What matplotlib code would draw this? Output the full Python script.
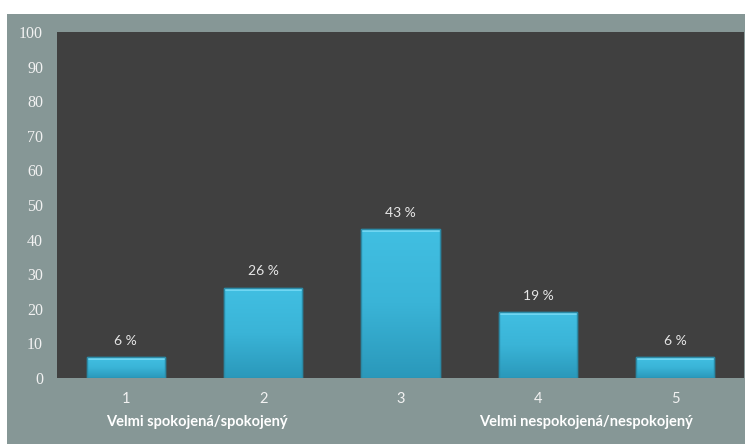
import matplotlib
matplotlib.use("Agg")
import matplotlib.pyplot as plt
import numpy as np
from matplotlib.patches import Rectangle
from matplotlib.colors import LinearSegmentedColormap

categories = ["1", "2", "3", "4", "5"]
values = [6, 26, 43, 19, 6]
labels = ["6 %", "26 %", "43 %", "19 %", "6 %"]
yticks = [0, 10, 20, 30, 40, 50, 60, 70, 80, 90, 100]
left_text = "Velmi spokojená/spokojený"
right_text = "Velmi nespokojená/nespokojený"

W, H = 748, 444
fig = plt.figure(figsize=(W / 100, H / 100), dpi=100, facecolor="white")

panel_col = "#869796"
fig.patches.append(Rectangle((7 / W, 0), (745 - 7) / W, (H - 14) / H,
                             transform=fig.transFigure, facecolor=panel_col,
                             edgecolor="none", zorder=-10))

ax = fig.add_axes([57 / W, (H - 378) / H, 687 / W, 346 / H])
ax.set_facecolor("#404040")
for s in ax.spines.values():
    s.set_visible(False)

x = np.arange(len(categories))
bars = ax.bar(x, values, width=0.57, facecolor="#3bb7da", edgecolor="#2b8aa6",
              linewidth=1.0, zorder=2)

# vertical gradient inside each bar
grad = np.linspace(0, 1, 256).reshape(-1, 1)
cmap = LinearSegmentedColormap.from_list("g", ["#2a98ba", "#3ab4d7", "#41bfe2"])
for b in bars:
    x0, y0 = b.get_x(), b.get_y()
    w, h = b.get_width(), b.get_height()
    im = ax.imshow(grad, extent=[x0, x0 + w, y0, y0 + h], origin="lower",
                   cmap=cmap, aspect="auto", zorder=2.5)
    im.set_clip_path(b)
    ax.add_patch(Rectangle((x0, y0 + h - 0.8), w, 0.8, facecolor="#6fd6f2",
                           edgecolor="none", zorder=3))
    ax.add_patch(Rectangle((x0, y0), w, h, facecolor="none",
                           edgecolor="#2b8aa6", linewidth=1.0, zorder=3.5))

for b, lab in zip(bars, labels):
    ax.annotate(lab, (b.get_x() + b.get_width() / 2, b.get_height()),
                xytext=(0, 12), textcoords="offset points", ha="center",
                va="center", color="#e6e6e6", fontsize=10, family="Lato")

ax.set_xlim(-0.5, len(categories) - 0.5)
ax.set_ylim(0, 100)
ax.set_yticks(yticks)
ax.set_yticklabels([str(t) for t in yticks], color="#f2f2f2", fontsize=11.5,
                   family="Liberation Serif")
ax.set_xticks(x)
ax.set_xticklabels(categories, color="#f2f2f2", fontsize=10.5, family="Lato")
ax.tick_params(axis="both", length=0)
ax.tick_params(axis="y", pad=10)
ax.tick_params(axis="x", pad=10)

fig.text(197 / W, 1 - 422 / H, left_text, ha="center", va="center",
         color="white", fontsize=10.5, fontweight="bold", family="Lato")
fig.text(586 / W, 1 - 422 / H, right_text, ha="center", va="center",
         color="white", fontsize=10.5, fontweight="bold", family="Lato")

fig.savefig("out.png", dpi=100, facecolor="white")
